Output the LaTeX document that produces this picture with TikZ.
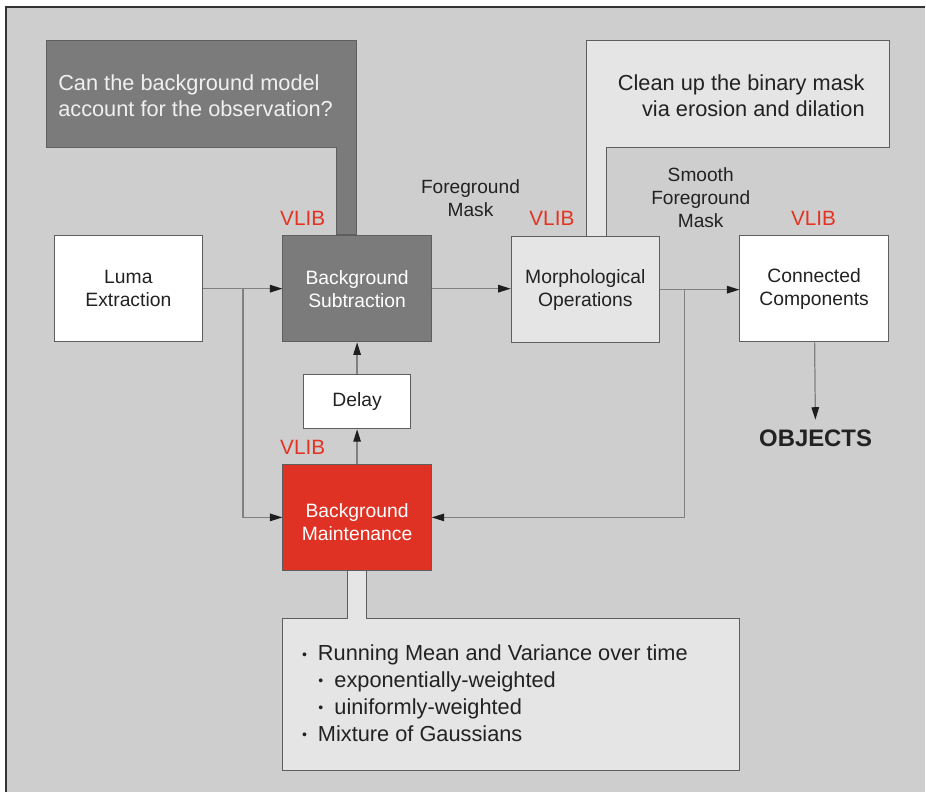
\documentclass[tikz,border=0pt]{standalone}
\usepackage{fontspec}
\setmainfont{Liberation Sans}
\usepackage{xcolor}
\usetikzlibrary{positioning,arrows.meta}

\definecolor{panelgray}{HTML}{CECECE}
\definecolor{darkfill}{HTML}{7B7B7B}
\definecolor{lightfill}{HTML}{E5E5E5}
\definecolor{maintred}{HTML}{E03224}
\definecolor{vlibred}{HTML}{E43322}
\definecolor{edgegray}{HTML}{5E5E5E}
\definecolor{linegray}{HTML}{808080}
\definecolor{tipdark}{HTML}{1E1E1E}
\definecolor{textdark}{HTML}{222222}

\newcommand{\dotitem}{\makebox[0.32cm][l]{\raisebox{0.9pt}{\footnotesize\textbullet}}}

\begin{document}
\begin{tikzpicture}[x=0.02cm, y=-0.02cm,
    box/.style={draw=edgegray, line width=0.55pt, fill=white, align=center, inner sep=0pt,
                minimum width=2.97cm, minimum height=2.13cm, text=textdark,
                font=\fontsize{11}{13.1}\selectfont},
    flow/.style={draw=linegray, line width=0.7pt, -{Triangle[length=0.25cm, width=0.15cm, color=tipdark]}},
    callout/.style={draw=edgegray, line width=0.55pt},
    vlib/.style={text=vlibred, inner sep=0pt, font=\fontsize{11.8}{14}\selectfont},
    tag/.style={text=textdark, align=center, inner sep=0pt, font=\fontsize{10.9}{13}\selectfont}]

      % panel
      \fill[white] (0,0) rectangle (926,793);
      \fill[panelgray] (6,7) rectangle (926,793);
      \draw[line width=1.2pt, black!80] (926,7) -- (6,7) -- (6,793);

      % callouts
      \fill[darkfill, callout] (47,41) -- (357,41) -- (357,235) -- (337,235) -- (337,148) -- (47,148) -- cycle;
      \fill[lightfill, callout] (587,41) -- (890,41) -- (890,148) -- (607,148) -- (607,237) -- (587,237) -- cycle;
      \fill[lightfill, callout] (283,619) -- (348,619) -- (348,571) -- (367,571) -- (367,619) -- (740,619) -- (740,771) -- (283,771) -- cycle;

      \node[anchor=west, align=left, inner sep=0pt, text=white!94!black, font=\fontsize{12.4}{14.8}\selectfont]
            (Q1)  at ( 58,  96)  {Can the background model\\account for the observation?};
      \node[anchor=east, align=right, inner sep=0pt, text=textdark, font=\fontsize{12.4}{14.8}\selectfont]
            (Q2)  at (866,  96)  {Clean up the binary mask\\via erosion and dilation};
      \node[anchor=west, align=left, inner sep=0pt, text=textdark, font=\fontsize{12.4}{15.3}\selectfont]
            (Q3)  at (302, 694)  {\dotitem Running Mean and Variance over time\\
                                  \hspace*{0.33cm}\dotitem exponentially-weighted\\
                                  \hspace*{0.33cm}\dotitem uiniformly-weighted\\
                                  \dotitem Mixture of Gaussians};

      % blocks
      \node[box]                                   (LE)  at (128.5, 289)  {Luma\\Extraction};
      \node[box, fill=darkfill, text=white]        (BS)  at (357.5, 289)  {Background\\Subtraction};
      \node[box, fill=lightfill]                   (MO)  at (586,   290)  {Morphological\\Operations};
      \node[box]                                   (CC)  at (815,   289)  {Connected\\Components};
      \node[box, minimum width=2.14cm, minimum height=1.09cm]
                                                   (DL)  at (357.5, 402)  {Delay};
      \node[box, fill=maintred, text=white]        (BM)  at (357.5, 518)  {\raisebox{-0.24cm}[0pt][0pt]{\begin{tabular}{@{}c@{}}Background\\Maintenance\end{tabular}}};

      \node[inner sep=0pt, inner ysep=0.2cm, text=textdark, font=\fontsize{13.6}{16}\selectfont\bfseries]
                                                   (OB)  at (816.5, 439)  {OBJECTS};

      % labels
      \node[vlib]  (V1)  at (303,   219)  {VLIB};
      \node[vlib]  (V2)  at (552.5, 219)  {VLIB};
      \node[vlib]  (V3)  at (814.5, 219)  {VLIB};
      \node[vlib]  (V4)  at (303,   448)  {VLIB};
      \node[tag]   (FM)  at (471,   198)  {Foreground\\Mask};
      \node[tag]   (SM)  at (701.5, 198)  {Smooth\\Foreground\\Mask};

      % connectors
      \coordinate (J1) at (243.3, 289);
      \coordinate (J2) at (685.5, 290);

      \draw[flow] (LE) -- (BS);
      \draw[flow] (J1) |- (BM.west);
      \draw[flow] (BS.east) -- (BS.east -| MO.west);
      \draw[flow] (MO.east) -- (MO.east -| CC.west);
      \draw[flow] (J2) |- (BM.east);
      \draw[flow] (BM) -- (DL);
      \draw[flow] (DL) -- (BS);
      \draw[flow] (CC) -- (OB);
    \end{tikzpicture}
\end{document}
